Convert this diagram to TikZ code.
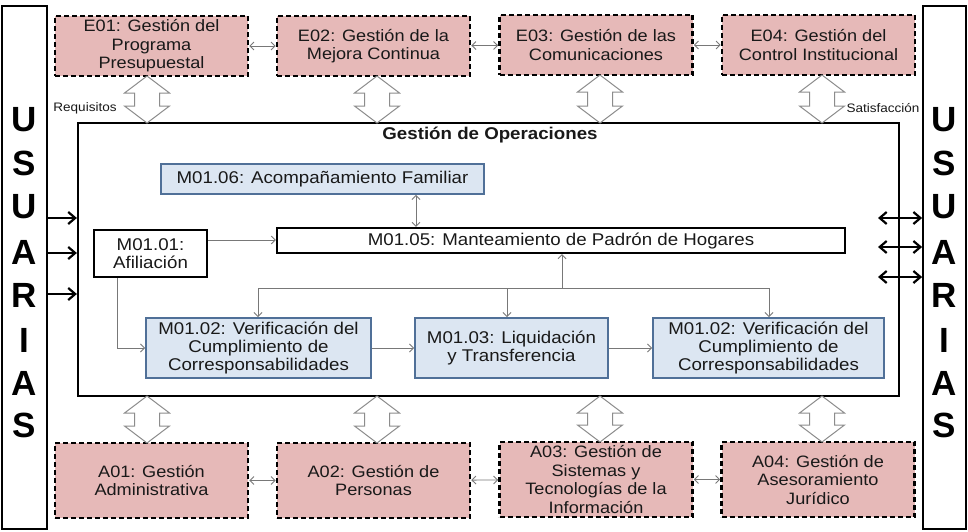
\documentclass[tikz,border=0pt]{standalone}
\usepackage{fontspec}
\setmainfont{Liberation Sans}[FakeStretch=1.1]
\newfontfamily\bigfont{Liberation Sans}
\usetikzlibrary{arrows.meta,calc}
\definecolor{pinkf}{RGB}{230,185,184}
\definecolor{bluef}{RGB}{220,230,242}
\definecolor{bluebd}{RGB}{80,112,152}
\definecolor{txt}{RGB}{25,25,25}
\definecolor{conng}{RGB}{120,120,120}
\definecolor{barrg}{RGB}{140,140,140}
\newcommand\blockarr[3]{\draw[barrow] (#1,#2) -- ({#1+22.5},{#2+17}) -- ({#1+12.5},{#2+17}) -- ({#1+12.5},{#3-17}) -- ({#1+22.5},{#3-17}) -- (#1,#3) -- ({#1-22.5},{#3-17}) -- ({#1-12.5},{#3-17}) -- ({#1-12.5},{#2+17}) -- ({#1-22.5},{#2+17}) -- cycle;}
\begin{document}
\begin{tikzpicture}[x=1pt,y=-1pt,
  ebox/.style={draw=black, line width=2.6pt, dash pattern=on 5pt off 3pt, fill=pinkf, minimum width=193pt, align=center, text=txt, font=\fontsize{16.5}{18.5}\selectfont, inner sep=0pt},
  mbox/.style={draw=bluebd, line width=1.8pt, fill=bluef, align=center, text=txt, font=\fontsize{17}{18}\selectfont, inner sep=0pt},
  wbox/.style={draw=black, line width=2.2pt, fill=white, align=center, text=txt, font=\fontsize{17}{18}\selectfont, inner sep=0pt},
  ubar/.style={draw=black, line width=1.8pt, fill=white, inner sep=0pt},
  uletter/.style={font=\bigfont\bfseries\fontsize{35}{35}\selectfont, inner sep=0pt},
  conn/.style={draw=conng, line width=0.9pt, -{Straight Barb[length=4pt,width=8pt]}},
  dconn/.style={draw=conng, line width=0.9pt, {Straight Barb[length=4pt,width=8pt]}-{Straight Barb[length=4pt,width=8pt]}},
  uarr/.style={draw=black, line width=2.2pt, -{Straight Barb[length=7pt,width=12pt]}},
  duarr/.style={draw=black, line width=2.2pt, {Straight Barb[length=7pt,width=12pt]}-{Straight Barb[length=7pt,width=12pt]}},
  barrow/.style={draw=barrg, line width=1pt, fill=white},
  lbl/.style={font=\fontsize{12.3}{13}\selectfont, text=txt, inner sep=0pt}]
\useasboundingbox (0,0) rectangle (968,531);
\fill[white] (0,0) rectangle (968,531);

% USUARIAS bars
\node[ubar, minimum width=45pt, minimum height=523pt] (LU) at (24.5,267.5) {};
\node[ubar, minimum width=43pt, minimum height=523pt] (RU) at (944.5,267.5) {};
\foreach \l/\y [count=\i] in {U/120,S/163,U/207,A/252,R/295,I/340,A/383,S/425}{
  \node[uletter] (LL\i) at (24.5,\y) {\l};
  \node[uletter] (RL\i) at (944.5,\y) {\l};
}

% main box
\node[draw=black, line width=2.2pt, fill=white, minimum width=821pt, minimum height=273pt, inner sep=0pt] (main) at (488.5,259.5) {};
\node[font=\bfseries\fontsize{17}{18}\selectfont, text=txt, inner sep=0pt] (title) at (490,135) {Gestión de Operaciones};

% E boxes
\node[ebox, minimum height=60pt] (E1) at (151.5,46) {E01: Gestión del\\Programa\\Presupuestal};
\node[ebox, minimum height=60pt] (E2) at (373.5,46) {E02: Gestión de la\\Mejora Continua};
\node[ebox, minimum height=60pt] (E3) at (596,45) {E03: Gestión de las\\Comunicaciones};
\node[ebox, minimum height=60pt] (E4) at (818.5,45) {E04: Gestión del\\Control Institucional};

% A boxes
\node[ebox, minimum height=75pt] (A1) at (151.5,480.5) {A01: Gestión\\Administrativa};
\node[ebox, minimum height=75pt] (A2) at (373.5,480.5) {A02: Gestión de\\Personas};
\node[ebox, minimum height=75pt] (A3) at (596,479.5) {A03: Gestión de\\Sistemas y\\Tecnologías de la\\Información};
\node[ebox, minimum height=75pt] (A4) at (818,479.5) {A04: Gestión de\\Asesoramiento\\Jurídico};

\draw[dconn] (E1) -- (E2);
\draw[dconn] (E2) -- (E3);
\draw[dconn] (E3) -- (E4);
\draw[dconn] (A1) -- (A2);
\draw[dconn] (A2) -- (A3);
\draw[dconn] (A3) -- (A4);

% block arrows
\blockarr{147}{76}{123}
\blockarr{377}{76}{123}
\blockarr{600}{75}{123}
\blockarr{822}{75}{123}
\blockarr{147}{396}{443}
\blockarr{377}{396}{443}
\blockarr{600}{396}{442}
\blockarr{822}{396}{442}

\node[lbl] (req) at (85,108) {Requisitos};
\node[lbl] (sat) at (883,108) {Satisfacción};

% inner nodes
\node[mbox, minimum width=323pt, minimum height=30pt] (M6) at (322.5,179) {M01.06: Acompañamiento Familiar};
\node[wbox, minimum width=568pt, minimum height=25pt] (M5) at (561,240.5) {M01.05: Manteamiento de Padrón de Hogares};
\node[wbox, minimum width=113pt, minimum height=47pt] (M1) at (150.5,253.5) {M01.01:\\Afiliación};
\node[mbox, minimum width=225pt, minimum height=60pt] (M2L) at (258.5,348) {M01.02: Verificación del\\Cumplimiento de\\Corresponsabilidades};
\node[mbox, minimum width=193pt, minimum height=60pt] (M3) at (511.5,348) {M01.03: Liquidación\\y Transferencia};
\node[mbox, minimum width=231pt, minimum height=60pt] (M2R) at (768.5,348) {M01.02: Verificación del\\Cumplimiento de\\Corresponsabilidades};

% helper coordinates
\coordinate (x416) at (416,0);
\coordinate (x117) at (117,0);
\coordinate (x562) at (562,0);
\coordinate (y240) at (0,240);
\coordinate (jL) at (258,288);
\coordinate (jM) at (507,288);
\coordinate (jC) at (562,288);
\coordinate (jR) at (769,288);
\coordinate (bend) at (117,348);

% inner connectors
\draw[dconn] (M6.south -| x416) -- (M5.north -| x416);
\draw[conn] (M1.east |- y240) -- (M5.west |- y240);
\draw[conn] (M1.south -| x117) -- (bend) -- (M2L.west);
\draw[conn] (M2L) -- (M3);
\draw[conn] (M3) -- (M2R);
\draw[conn] (jC) -- (M5.south -| x562);
\draw[draw=conng, line width=0.9pt] (jL) -- (jR);
\draw[conn] (jL) -- (M2L.north -| jL);
\draw[conn] (jM) -- (M3.north -| jM);
\draw[conn] (jR) -- (M2R.north -| jR);

% USUARIAS arrows
\foreach \y [count=\i] in {218,253,294}{
  \coordinate (ly\i) at (0,\y);
  \draw[uarr] (LU.east |- ly\i) -- (main.west |- ly\i);
}
\foreach \y [count=\i] in {218,247,277}{
  \coordinate (rs\i) at (878,\y);
  \draw[duarr] (rs\i) -- (RU.west |- rs\i);
}
\end{tikzpicture}
\end{document}
